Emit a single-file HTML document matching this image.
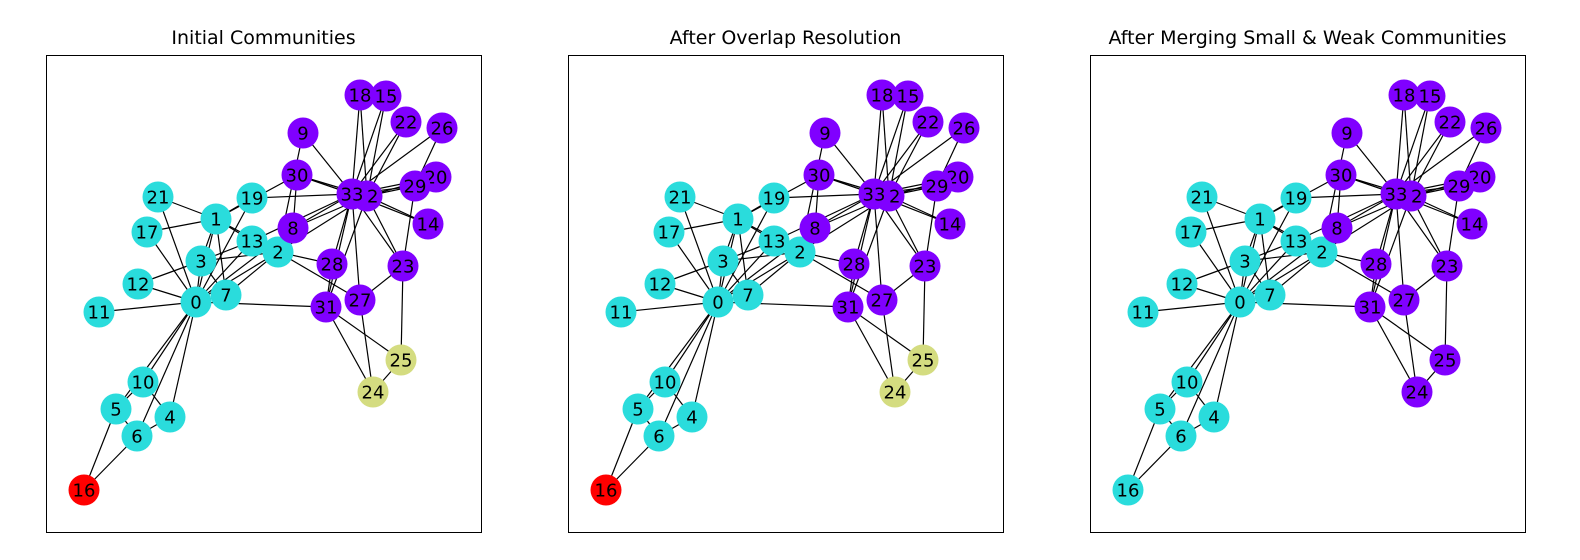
<!DOCTYPE html>
<html><head><meta charset="utf-8"><style>
body{margin:0;background:#fff;}
svg{display:block;font-family:"DejaVu Sans","Liberation Sans",sans-serif;}
</style></head><body>
<svg id="c" width="1580" height="560"></svg>
<script>
const nodeX=[196,216,278,201,170,116,137,226,293,303,143,99,138,252,428,386,84,147,360,252,436,158,406,403,373,401,442,360,332,415,297,326,367,352];
const nodeY=[302,219,252,261,417,409,436,295,228,133,382,312,284,241,224,96,490,232,95,198,177,197,122,266,392,360,128,300,264,186,175,307,196,194];
const edges=[[0,1],[0,2],[0,3],[0,4],[0,5],[0,6],[0,7],[0,8],[0,10],[0,11],[0,12],[0,13],[0,17],[0,19],[0,21],[0,31],
[1,2],[1,3],[1,7],[1,13],[1,17],[1,19],[1,21],[1,30],[2,3],[2,7],[2,8],[2,9],[2,13],[2,27],[2,28],[2,32],[3,7],[3,12],[3,13],
[4,6],[4,10],[5,6],[5,10],[5,16],[6,16],[8,30],[8,32],[8,33],[9,33],[13,33],[14,32],[14,33],[15,32],[15,33],[18,32],[18,33],
[19,33],[20,32],[20,33],[22,32],[22,33],[23,25],[23,27],[23,29],[23,32],[23,33],[24,25],[24,27],[24,31],[25,31],[26,29],[26,33],
[27,33],[28,31],[28,33],[29,32],[29,33],[30,32],[30,33],[31,32],[31,33],[32,33]];
const panelTitles=["Initial Communities","After Overlap Resolution","After Merging Small & Weak Communities"];
const P="#8000ff",C="#2adcdc",R="#ff0000",Y="#d4dc80";
const base=[C,C,C,C,C,C,C,C,P,P,C,C,C,C,P,P,R,C,P,C,P,C,P,P,Y,Y,P,P,P,P,P,P,P,P];
const panelColors=[base.slice(),base.slice(),base.map((c,i)=>i===16?C:(c===Y?P:c))];
const offsets=[0,522,1044];
const svg=document.getElementById('c');const NS="http://www.w3.org/2000/svg";
function mk(t,a,p){const e=document.createElementNS(NS,t);for(const k in a)e.setAttribute(k,a[k]);(p||svg).appendChild(e);return e;}
panelTitles.forEach((title,p)=>{
  const ox=offsets[p];
  const g=mk('g',{});
  
  
  const fr=mk('rect',{x:46.5+ox,y:55.5,width:435,height:477,fill:'none',stroke:'#000','stroke-width':1},g);
  
  
  const t=mk('text',{x:263.5+ox,y:44,'text-anchor':'middle','font-size':19,fill:'#000'},g);
  t.textContent=title;
  
  
  edges.forEach(([a,b])=>{
    const l=mk('line',{x1:nodeX[a]+ox,y1:nodeY[a],x2:nodeX[b]+ox,y2:nodeY[b],stroke:'#000','stroke-width':1.2},g);
    
    
  });
  nodeX.forEach((x,i)=>{
    const c=mk('circle',{cx:x+ox,cy:nodeY[i],r:15.5,fill:panelColors[p][i]},g);
    
    
    const tx=mk('text',{x:x+ox,y:nodeY[i]+6.5,'text-anchor':'middle','font-size':18,fill:'#000'},g);
    tx.textContent=i;
    
    
  });
});
</script>
</body></html>
